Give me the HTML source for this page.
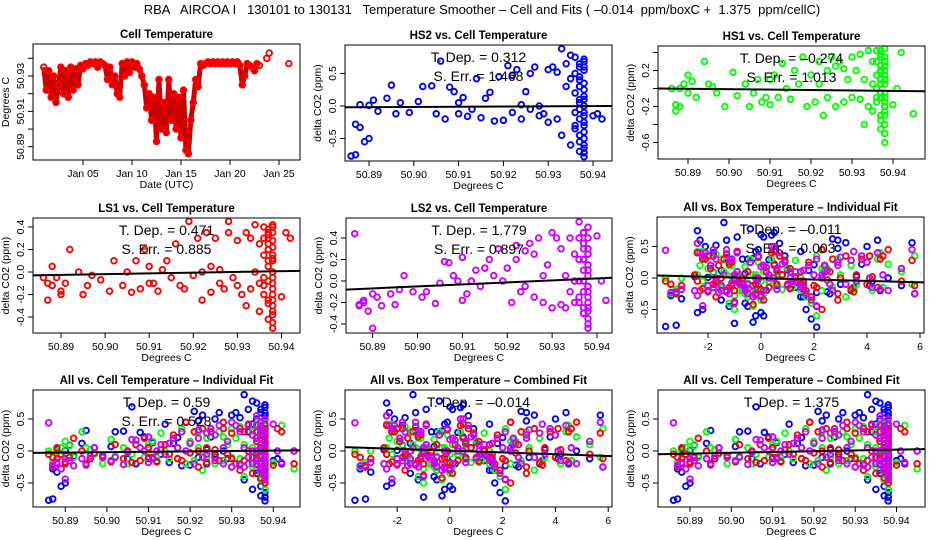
<!DOCTYPE html>
<html><head><meta charset="utf-8"><style>
html,body{margin:0;padding:0;background:#fff;}
svg{display:block;font-family:"Liberation Sans",sans-serif;}
</style></head><body>
<svg id="chart" width="936" height="540" viewBox="0 0 936 540">
<rect x="0" y="0" width="936" height="540" fill="#fff"/>
<text x="482" y="14" text-anchor="middle" font-size="13" xml:space="preserve">RBA   AIRCOA I   130101 to 130131   Temperature Smoother – Cell and Fits ( –0.014  ppm/boxC +  1.375  ppm/cellC)</text>
</svg>
<script>
// ---- Data ----
const tsDays = [1,1.25,1.5,1.75,2,2.25,2.5,2.75,3,3.25,3.5,3.75,4,4.25,4.5,4.75,
5,5.25,5.5,5.75,6,6.25,6.5,6.75,7,
7.25,7.5,7.75,8,8.25,8.5,8.75,
9,9.25,9.5,9.75,10,10.25,10.5,10.75,11,
11.25,11.5,11.75,12,12.25,12.5,12.75,13,13.25,13.5,13.75,14,14.25,14.5,14.75,15,15.25,15.5,15.75,16,
16.25,16.5,16.75,17,
17.25,17.5,17.75,18,18.25,18.5,18.75,19,19.25,19.5,19.75,20,20.25,20.5,20.75,21,21.25,21.5,21.75,22,22.25,22.5,22.75,23,
23.75,24,26];
// cell temperature as millikelvin above 50.900 C
const tsTempMk = [35,22,33,18,30,15,25,35,20,33,18,35,22,34,25,36,
34,37,36,38,37,38,35,38,37,
36,28,35,25,30,20,18,
37,30,38,32,38,35,37,34,30,
25,12,20,5,18,-7,28,0,15,-2,28,5,20,0,18,-5,22,-12,-14,5,
15,28,24,37,
36,37,38,37,38,37,38,37,38,37,38,37,38,37,38,36,25,30,37,36,35,33,37,36,
40,43,37];
const tsTickMk = [-10,0,10,20,30,40];
const tsTickLabels = ['50.89','','50.91','','50.93',''];

const cellTmK = [-14,-13,-13,-12,-12,-11,-10,-10,-9,-8,-6,-5,-4,-3,-1,1,2,4,5,6,
7,8,9,10,10,11,12,13,14,15,16,17,18,19,20,21,22,22,23,24,24,25,26,26,27,28,28,29,30,30,
31,32,32,33,33,34,34,35,35,35,
36,36,36,36,36,37,37,37,37,37,37,37,37,37,38,38,38,38,38,38,38,38,38,38,38,38,
40,41,42,45,
37,38,38,37,38,38,37,38,38,36,37,38];
const boxT = [-3.6,-3.4,-3.2,-3.0,-2.5,-2.4,-2.2,-2.0,-1.8,-1.6,-1.5,-1.3,-1.1,-1.0,-0.8,-0.6,-0.5,-0.3,-0.1,0.0,
0.2,0.3,0.5,0.6,0.8,1.0,1.1,1.3,1.5,1.6,1.8,2.0,2.1,2.3,2.5,2.7,2.9,3.0,3.2,3.4,3.6,3.8,4.0,4.2,4.4,4.6,4.8,5.3,5.7,5.8,
-2.3,-2.0,-1.7,-1.4,-1.2,-0.9,-0.7,-0.4,-0.2,0.1,
-2.4,-2.1,-1.9,-1.7,-1.5,-1.3,-1.1,-0.9,-0.7,-0.5,-0.3,-0.1,0.1,0.3,0.5,0.7,0.9,1.1,1.3,1.5,1.7,1.9,2.1,2.3,2.6,2.9,
3.5,4.1,4.5,-1.0,
-1.8,-1.2,-0.6,0.0,0.6,1.2,-2.2,-1.0,0.4,1.6,2.4,-0.2];
const hs2 = [-0.77,-0.28,-0.75,-0.33,0.02,-0.55,-0.5,0.01,0.09,-0.08,0.12,0.32,-0.12,0.05,-0.1,0.07,0.3,0.31,-0.12,0.69,
-0.2,0.29,0.22,-0.12,0.05,0.13,-0.16,-0.05,0.42,-0.18,0.12,0.21,-0.23,0.45,-0.22,0.62,0.47,-0.1,0.56,-0.2,0.02,0.22,0.5,-0.05,0.6,-0.15,0.0,-0.12,0.56,-0.25,
0.6,-0.2,0.52,0.88,-0.45,0.65,0.3,0.78,0.42,-0.6,
0.75,0.5,0.2,-0.1,-0.35,0.6,0.3,0.05,-0.2,-0.45,-0.7,0.45,0.65,-0.05,0.72,0.55,0.35,0.1,-0.15,-0.3,-0.5,-0.65,-0.78,0.0,-0.25,0.6,
-0.15,-0.12,-0.2,0.0,
0.4,0.25,-0.4,-0.55,0.15,-0.1,0.3,-0.72,0.68,-0.3,0.1,-0.6];
const hs1 = [0.0,-0.25,-0.18,0.0,-0.2,0.05,-0.05,0.15,0.08,-0.1,0.3,0.05,0.02,-0.05,-0.2,0.18,-0.08,0.05,-0.2,-0.05,
0.1,-0.15,-0.1,0.1,-0.18,0.15,-0.1,0.28,0.0,-0.12,0.2,0.05,0.35,-0.2,0.15,-0.15,0.3,0.05,-0.3,0.2,-0.1,0.35,0.25,-0.2,0.3,-0.15,0.22,0.1,-0.1,0.35,
0.2,-0.12,0.38,0.1,-0.4,0.42,-0.2,0.3,0.05,-0.25,
0.42,0.3,0.15,0.0,-0.15,0.38,0.2,0.05,-0.1,-0.3,-0.45,0.25,0.1,-0.05,0.44,0.35,0.25,0.1,-0.05,-0.2,-0.3,-0.4,-0.6,0.15,-0.1,0.3,
-0.18,0.0,0.4,-0.28,
0.35,0.2,-0.25,-0.35,0.05,-0.15,0.42,-0.5,0.3,-0.1,0.18,-0.2];
const ls1 = [-0.05,-0.1,-0.25,-0.12,0.05,-0.05,-0.17,-0.2,-0.1,0.2,0.0,-0.2,-0.12,-0.03,-0.07,-0.17,0.1,-0.12,0.0,-0.18,
0.1,-0.15,0.2,-0.1,0.05,-0.1,-0.17,0.02,0.1,-0.05,0.25,-0.12,-0.15,0.45,-0.03,0.3,-0.25,0.0,0.35,-0.18,0.05,0.3,-0.1,0.02,-0.15,0.35,0.45,-0.05,0.28,-0.12,
-0.2,0.35,-0.3,0.3,-0.15,0.42,0.0,0.25,-0.1,-0.35,
0.4,0.3,0.15,-0.05,-0.2,0.38,0.25,0.1,-0.08,-0.25,-0.42,0.33,0.2,0.05,0.42,0.35,0.28,0.15,0.0,-0.1,-0.2,-0.3,-0.45,-0.5,0.1,-0.35,
-0.22,0.35,0.3,-0.2,
0.35,0.22,-0.15,-0.28,0.12,-0.05,0.3,-0.38,0.4,-0.12,0.2,-0.25];
const ls2 = [0.44,-0.23,-0.22,-0.18,-0.2,-0.28,-0.44,-0.12,-0.15,-0.23,-0.12,-0.22,-0.08,0.05,-0.1,-0.15,-0.1,-0.21,-0.02,0.18,
0.17,0.05,0.0,-0.18,0.22,-0.12,0.0,0.1,-0.05,0.12,0.2,0.05,0.3,0.0,0.12,-0.2,0.2,0.33,-0.1,0.28,-0.05,0.35,0.25,-0.15,0.4,0.05,-0.2,0.15,0.45,-0.25,
0.4,-0.22,0.3,0.05,-0.25,0.4,-0.1,0.25,0.0,-0.2,
0.55,0.4,0.2,0.0,-0.2,0.45,0.3,0.1,-0.1,-0.25,-0.3,0.35,0.2,0.0,0.5,0.4,0.25,0.1,-0.05,-0.15,-0.25,-0.35,-0.44,0.05,-0.1,0.25,
0.42,0.0,-0.18,0.0,
0.45,0.3,-0.2,-0.3,0.15,-0.05,0.35,-0.4,0.5,-0.15,0.2,-0.28];
const tDepLabels = ["0.312","-0.274","0.471","1.779","-0.011","0.59","-0.014","1.375"];
const sErrLabels = ["1.468","1.013","0.885","0.897","0.003","0.528"];
const fitStartY = [-0.02,0.0,-0.03,-0.08,0.04,-0.03,0.06,-0.05];
const fitEndY = [0.0,-0.03,0.01,0.03,-0.07,0.01,-0.08,0.03];
const dateTickDays = [5,10,15,20,25];
const dateTickLabels = ["Jan 05","Jan 10","Jan 15","Jan 20","Jan 25"];
const cellTicks = [50.89,50.90,50.91,50.92,50.93,50.94];
const cellTickLabels = ["50.89","50.90","50.91","50.92","50.93","50.94"];
const boxTicks = [-2,0,2,4,6];

// ---- Rendering ----
const svg = document.getElementById('chart');
const NS = 'http://www.w3.org/2000/svg';
function el(tag, attrs, parent){ const e=document.createElementNS(NS,tag); for(const k in attrs) e.setAttribute(k,attrs[k]); (parent||svg).appendChild(e); return e; }
const cellX = cellTmK.map(v=>50.9+v/1000);
const COL = {red:'#ff0000',blue:'#0000ff',green:'#00ff00',purple:'#cc00ff'};

function makePanel(p){
  const g = el('g',{});
  
  
  const sx = v => p.l + (v-p.xmin)/(p.xmax-p.xmin)*(p.r-p.l);
  const sy = v => p.b - (v-p.ymin)/(p.ymax-p.ymin)*(p.b-p.t);
  const clipId = 'clip-'+p.name;
  const cp = el('clipPath',{id:clipId},g); el('rect',{x:p.l,y:p.t,width:p.r-p.l,height:p.b-p.t},cp);
  const pg = el('g',{'clip-path':'url(#'+clipId+')'},g);
  const t = el('text',{x:(p.l+p.r)/2,y:p.t-6,'text-anchor':'middle','font-size':'11.5','font-weight':'bold'},g);
  t.textContent = p.title;
  
  
  return {g,pg,sx,sy};
}
function axes(p,ctx,xt,xl,yt,yl,xtitle,ytitle){
  const g=ctx.g;
  const box = el('rect',{x:p.l,y:p.t,width:p.r-p.l,height:p.b-p.t,fill:'none',stroke:'#000','stroke-width':1},g);
  
  
  xt.forEach((v,i)=>{
    const x=ctx.sx(v); if(x<p.l-0.5||x>p.r+0.5) return;
    el('line',{x1:x,x2:x,y1:p.b,y2:p.b+5,stroke:'#000'},g);
    if(xl[i]!==''){ const tx=el('text',{x:x,y:p.b+17,'text-anchor':'middle','font-size':'10.5'},g); tx.textContent=xl[i];
        }
  });
  yt.forEach((v,i)=>{
    const y=ctx.sy(v); if(y<p.t-0.5||y>p.b+0.5) return;
    el('line',{x1:p.l-5,x2:p.l,y1:y,y2:y,stroke:'#000'},g);
    if(yl[i]!==''){ const tx=el('text',{x:p.l-9,y:y,'text-anchor':'middle','font-size':'10.5',transform:`rotate(-90 ${p.l-9} ${y})`},g); tx.textContent=yl[i];
        }
  });
  const xtt=el('text',{x:(p.l+p.r)/2,y:p.b+28,'text-anchor':'middle','font-size':'10.5'},g); xtt.textContent=xtitle;
   
  const yx=p.l-24, yy=(p.t+p.b)/2;
  const ytt=el('text',{x:yx,y:yy,'text-anchor':'middle','font-size':'10.5',transform:`rotate(-90 ${yx} ${yy})`},g); ytt.textContent=ytitle;
   
}
function points(ctx,xs,ys,color,name){
  for(let i=0;i<xs.length;i++){
    const c=el('circle',{cx:ctx.sx(xs[i]),cy:ctx.sy(ys[i]),r:2.8,fill:'none',stroke:color,'stroke-width':1.9},ctx.pg);
    
    
  }
}
function fitLine(ctx,p,k){
  const ln=el('line',{x1:ctx.sx(p.xmin),y1:ctx.sy(fitStartY[k]),x2:ctx.sx(p.xmax),y2:ctx.sy(fitEndY[k]),stroke:'#000','stroke-width':2},ctx.pg);
  
  
}
function annot(ctx,p,k,withErr){
  const cx=(p.l+p.r)/2;
  const a=el('text',{x:cx,y:p.t+17,'text-anchor':'middle','font-size':'14'},ctx.g);
  a.textContent='T. Dep. =  '+tDepLabels[k].replace('-','–');
   
  if(withErr){
    const b=el('text',{x:cx,y:p.t+36,'text-anchor':'middle','font-size':'14'},ctx.g);
    b.textContent='S. Err. =  '+sErrLabels[k];
     
  }
}
const yLab5 = [-0.5,0,0.5], yLab5s=['-0.5','0.0','0.5'];
const ALL=[[hs2,COL.blue],[hs1,COL.green],[ls1,COL.red],[ls2,COL.purple]];

const specs=[
 {name:'cell-temperature-panel',title:'Cell Temperature',l:33,r:300,t:44,b:160,xmin:-0.10,xmax:27.14,ymin:-17.5,ymax:48.1,x:'time'},
 {name:'hs2-panel',title:'HS2 vs. Cell Temperature',l:345,r:612,t:45,b:161,xmin:50.88464,xmax:50.94424,ymin:-0.846,ymax:0.938,series:[[hs2,COL.blue]],k:0,err:true,yt:yLab5,yl:yLab5s,x:'cell'},
 {name:'hs1-panel',title:'HS1 vs. Cell Temperature',l:658,r:925,t:46,b:159,xmin:50.88268,xmax:50.94781,ymin:-0.783,ymax:0.472,series:[[hs1,COL.green]],k:1,err:true,yt:[-0.6,-0.4,-0.2,0,0.2,0.4],yl:['-0.6','','-0.2','','0.2',''],x:'cell'},
 {name:'ls1-panel',title:'LS1 vs. Cell Temperature',l:33,r:300,t:218,b:333,xmin:50.88365,xmax:50.9442,ymin:-0.542,ymax:0.48,series:[[ls1,COL.red]],k:2,err:true,yt:[-0.4,-0.2,0,0.2,0.4],yl:['-0.4','-0.2','0.0','0.2','0.4'],x:'cell'},
 {name:'ls2-panel',title:'LS2 vs. Cell Temperature',l:346,r:612,t:218,b:333,xmin:50.88406,xmax:50.94335,ymin:-0.484,ymax:0.586,series:[[ls2,COL.purple]],k:3,err:true,yt:[-0.4,-0.2,0,0.2,0.4],yl:['-0.4','-0.2','0.0','0.2','0.4'],x:'cell'},
 {name:'all-box-individual-panel',title:'All vs. Box Temperature – Individual Fit',l:657,r:924,t:217,b:333,xmin:-3.925,xmax:6.151,ymin:-0.873,ymax:0.968,series:ALL,k:4,err:true,yt:yLab5,yl:yLab5s,x:'box'},
 {name:'all-cell-individual-panel',title:'All vs. Cell Temperature – Individual Fit',l:33,r:300,t:390,b:507,xmin:50.88224,xmax:50.94642,ymin:-0.875,ymax:0.953,series:ALL,k:5,err:true,yt:yLab5,yl:yLab5s,x:'cell'},
 {name:'all-box-combined-panel',title:'All vs. Box Temperature – Combined Fit',l:345,r:612,t:390,b:507,xmin:-3.977,xmax:6.144,ymin:-0.875,ymax:0.953,series:ALL,k:6,err:false,yt:yLab5,yl:yLab5s,x:'box'},
 {name:'all-cell-combined-panel',title:'All vs. Cell Temperature – Combined Fit',l:658,r:925,t:390,b:507,xmin:50.88225,xmax:50.9469,ymin:-0.875,ymax:0.953,series:ALL,k:7,err:false,yt:yLab5,yl:yLab5s,x:'cell'}
];
specs.forEach(p=>{
  const ctx=makePanel(p);
  if(p.x==='time'){
    const pts=[];
    for(let i=0;i<tsDays.length;i++){ if(tsDays[i]<=23.1) pts.push(ctx.sx(tsDays[i]).toFixed(1)+','+ctx.sy(tsTempMk[i]).toFixed(1)); }
    const trace=el('polyline',{points:pts.join(' '),fill:'none',stroke:'#cc0000','stroke-width':5,'stroke-linejoin':'round'},ctx.pg);
    
    
    points(ctx,tsDays,tsTempMk,'#ff0000','temperature-point');
    axes(p,ctx,dateTickDays,dateTickLabels,tsTickMk,tsTickLabels,'Date (UTC)','Degrees C');
    return;
  }
  const xs = p.x==='cell'? cellX : boxT;
  p.series.forEach(s=>points(ctx,xs,s[0],s[1],'data-point'));
  fitLine(ctx,p,p.k);
  if(p.x==='cell') axes(p,ctx,cellTicks,cellTickLabels,p.yt,p.yl,'Degrees C','delta CO2 (ppm)');
  else axes(p,ctx,boxTicks,boxTicks.map(String),p.yt,p.yl,'Degrees C','delta CO2 (ppm)');
  annot(ctx,p,p.k,p.err);
});
</script>
</body></html>
